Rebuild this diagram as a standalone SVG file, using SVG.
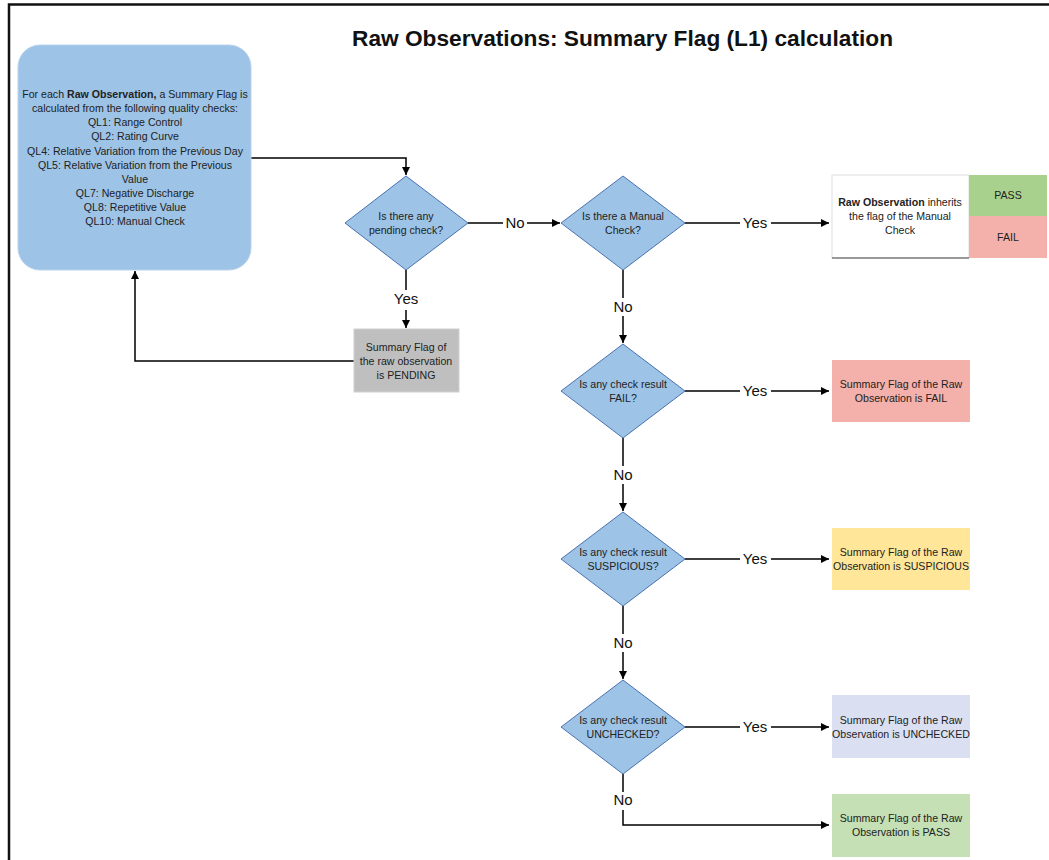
<svg xmlns="http://www.w3.org/2000/svg" width="1049" height="860" viewBox="0 0 1049 860">
<style>
.t{font-family:"Liberation Sans",Arial,sans-serif;font-size:10.6px;fill:#222;text-anchor:middle}
.lbl{font-family:"Liberation Sans",Arial,sans-serif;font-size:15px;fill:#111;text-anchor:middle}
.dia{fill:#9dc3e6;stroke:#4a72b0;stroke-width:1}
.ln{fill:none;stroke:#000;stroke-width:1.5}
</style>
<defs>
<marker id="ar" viewBox="0 0 10 10" refX="10" refY="5" markerWidth="8" markerHeight="8" markerUnits="userSpaceOnUse" orient="auto">
<path d="M0,0 L10,5 L0,10 z" fill="#000"/>
</marker>
</defs>
<rect x="0" y="0" width="1049" height="860" fill="#fff"/>
<path d="M9,870 V4.5 H1060" fill="none" stroke="#111" stroke-width="2.5"/>
<text x="352" y="46" font-family="'Liberation Sans',Arial,sans-serif" font-size="22" font-weight="bold" fill="#111" textLength="541" lengthAdjust="spacingAndGlyphs">Raw Observations: Summary Flag (L1) calculation</text>

<g id="connectors">
<path class="ln" d="M251,158 H406 V175" marker-end="url(#ar)"/>
<path class="ln" d="M468,223 H503 M527,223 H560" marker-end="url(#ar)"/>
<text class="lbl" x="515" y="228">No</text>
<path class="ln" d="M685,223 H740 M771,223 H829" marker-end="url(#ar)"/>
<text class="lbl" x="755" y="228">Yes</text>
<path class="ln" d="M406,270 V290 M406,310 V328" marker-end="url(#ar)"/>
<text class="lbl" x="406" y="304">Yes</text>
<path class="ln" d="M354,361 H135 V271" marker-end="url(#ar)"/>
<path class="ln" d="M623,270 V298 M623,316 V343" marker-end="url(#ar)"/>
<text class="lbl" x="623" y="312">No</text>
<path class="ln" d="M685,391 H740 M771,391 H829" marker-end="url(#ar)"/>
<text class="lbl" x="755" y="396">Yes</text>
<path class="ln" d="M623,438 V466 M623,484 V511" marker-end="url(#ar)"/>
<text class="lbl" x="623" y="480">No</text>
<path class="ln" d="M685,559 H740 M771,559 H829" marker-end="url(#ar)"/>
<text class="lbl" x="755" y="564">Yes</text>
<path class="ln" d="M623,606 V634 M623,652 V679" marker-end="url(#ar)"/>
<text class="lbl" x="623" y="648">No</text>
<path class="ln" d="M685,727 H740 M771,727 H829" marker-end="url(#ar)"/>
<text class="lbl" x="755" y="732">Yes</text>
<path class="ln" d="M623,774 V792 M623,810 V825 H829" marker-end="url(#ar)"/>
<text class="lbl" x="623" y="805">No</text>
</g>

<g id="start">
<rect x="18" y="45" width="233" height="225" rx="22" fill="#9dc3e6" stroke="#b8d3ec" stroke-width="1"/>
<text class="t" x="135" y="98">For each <tspan font-weight="bold">Raw Observation,</tspan> a Summary Flag is</text>
<text class="t" x="135" y="112">calculated from the following quality checks:</text>
<text class="t" x="135" y="126">QL1: Range Control</text>
<text class="t" x="135" y="140">QL2: Rating Curve</text>
<text class="t" x="135" y="155">QL4: Relative Variation from the Previous Day</text>
<text class="t" x="135" y="169">QL5: Relative Variation from the Previous</text>
<text class="t" x="135" y="183">Value</text>
<text class="t" x="135" y="197">QL7: Negative Discharge</text>
<text class="t" x="135" y="211">QL8: Repetitive Value</text>
<text class="t" x="135" y="225">QL10: Manual Check</text>
</g>

<g id="d-pending">
<polygon class="dia" points="406,176 468,223 406,270 345,223"/>
<text class="t" x="406" y="220">Is there any</text>
<text class="t" x="406" y="234">pending check?</text>
</g>

<g id="pending">
<rect x="354" y="329" width="105" height="63" fill="#bfbfbf" stroke="#d0d0d0"/>
<text class="t" x="406" y="351">Summary Flag of</text>
<text class="t" x="406" y="365">the raw observation</text>
<text class="t" x="406" y="379">is PENDING</text>
</g>

<g id="d-manual">
<polygon class="dia" points="623,176 685,223 623,270 561,223"/>
<text class="t" x="623" y="220">Is there a Manual</text>
<text class="t" x="623" y="234">Check?</text>
</g>

<g id="manual">
<rect x="832" y="175" width="137" height="83" fill="#fff" stroke="#ddd"/>
<line x1="832" y1="258" x2="969" y2="258" stroke="#444" stroke-width="1"/>
<rect x="969" y="175" width="78" height="41" fill="#a9d18e"/>
<rect x="969" y="216" width="78" height="42" fill="#f4b0aa"/>
<text class="t" x="900" y="206"><tspan font-weight="bold">Raw Observation</tspan> inherits</text>
<text class="t" x="900" y="220">the flag of the Manual</text>
<text class="t" x="900" y="234">Check</text>
<text class="t" x="1008" y="199">PASS</text>
<text class="t" x="1008" y="241">FAIL</text>
</g>

<g id="d-fail">
<polygon class="dia" points="623,344 685,391 623,438 561,391"/>
<text class="t" x="623" y="388">Is any check result</text>
<text class="t" x="623" y="402">FAIL?</text>
</g>
<g id="fail">
<rect x="832" y="360" width="138" height="62" fill="#f4b0aa"/>
<text class="t" x="901" y="388">Summary Flag of the Raw</text>
<text class="t" x="901" y="402">Observation is FAIL</text>
</g>

<g id="d-susp">
<polygon class="dia" points="623,512 685,559 623,606 561,559"/>
<text class="t" x="623" y="556">Is any check result</text>
<text class="t" x="623" y="570">SUSPICIOUS?</text>
</g>
<g id="susp">
<rect x="832" y="528" width="138" height="62" fill="#ffe699"/>
<text class="t" x="901" y="556">Summary Flag of the Raw</text>
<text class="t" x="901" y="570">Observation is SUSPICIOUS</text>
</g>

<g id="d-unch">
<polygon class="dia" points="623,680 685,727 623,774 561,727"/>
<text class="t" x="623" y="724">Is any check result</text>
<text class="t" x="623" y="738">UNCHECKED?</text>
</g>
<g id="unch">
<rect x="832" y="695" width="138" height="63" fill="#dae0f2"/>
<text class="t" x="901" y="724">Summary Flag of the Raw</text>
<text class="t" x="901" y="738">Observation is UNCHECKED</text>
</g>

<g id="pass">
<rect x="832" y="794" width="138" height="63" fill="#c5e0b4"/>
<text class="t" x="901" y="822">Summary Flag of the Raw</text>
<text class="t" x="901" y="836">Observation is PASS</text>
</g>
</svg>
